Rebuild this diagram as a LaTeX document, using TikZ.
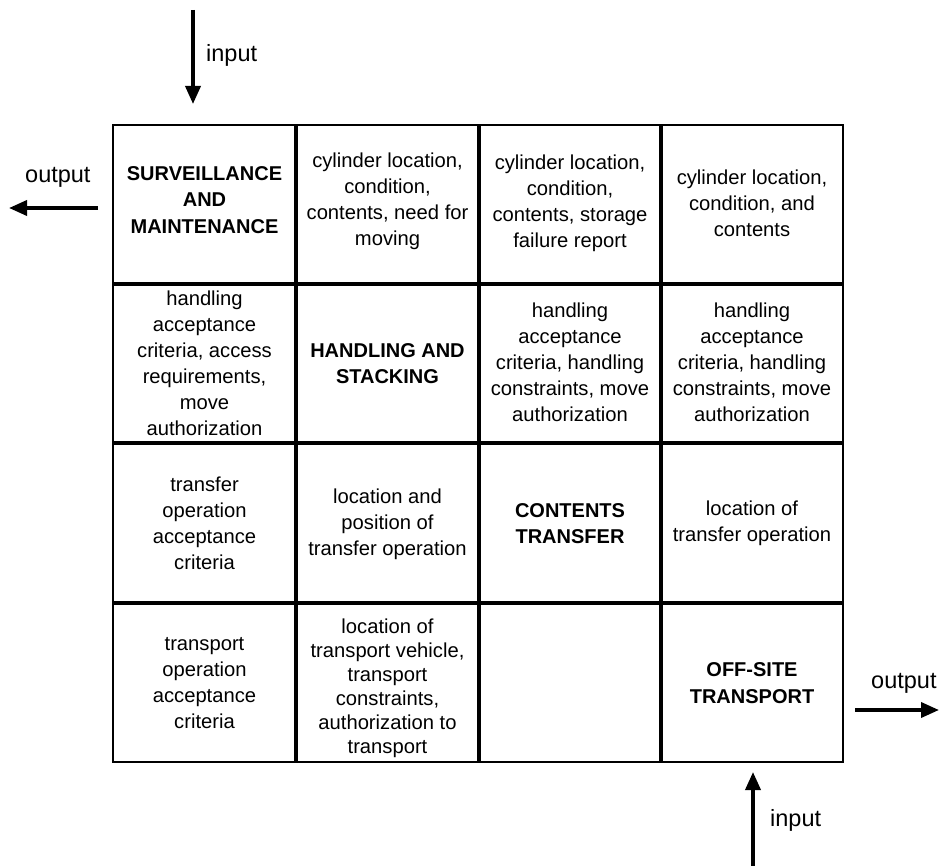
\documentclass[tikz,border=0pt]{standalone}
\usepackage{fontspec}
\setmainfont{Liberation Sans}
\usetikzlibrary{arrows.meta}
\begin{document}
\begin{tikzpicture}[x=1pt,y=-1pt,
  cell/.style={align=center, inner sep=0pt, font=\fontsize{20.2}{26}\selectfont},
  tightcell/.style={cell, font=\fontsize{20.2}{24}\selectfont},
  func/.style={cell, font=\fontsize{20}{26.5}\selectfont\bfseries},
  frame/.style={line width=2.2pt},
  divider/.style={line width=3.2pt},
  flow/.style={line width=3.6pt, -{Triangle[length=18pt,width=15pt]}},
  lbl/.style={inner sep=0pt, anchor=base west, font=\fontsize{23.5}{26}\selectfont}]
\useasboundingbox[fill=white] (0,0) rectangle (941,866);

% interface matrix: grid lines
\draw[divider] (296,125) -- (296,762) (479,125) -- (479,762) (661,125) -- (661,762);
\draw[divider] (113,284) -- (843,284) (113,443) -- (843,443) (113,603) -- (843,603);
\draw[frame] (113,125) rectangle (843,762);

% row 1
\node[func] (sm) at (204.5,200) {SURVEILLANCE\\AND\\MAINTENANCE};
\node[cell] (c12) at (387.5,201) {cylinder location,\\condition,\\contents, need for\\moving};
\node[cell] (c13) at (570,203) {cylinder location,\\condition,\\contents, storage\\failure report};
\node[cell] (c14) at (752,203) {cylinder location,\\condition, and\\contents};

% row 2
\node[cell] (c21) at (204.5,363.5) {handling\\acceptance\\criteria, access\\requirements,\\move\\authorization};
\node[func] (hs) at (387.5,363.5) {HANDLING AND\\STACKING};
\node[cell] (c23) at (570,362) {handling\\acceptance\\criteria, handling\\constraints, move\\authorization};
\node[cell] (c24) at (752,362) {handling\\acceptance\\criteria, handling\\constraints, move\\authorization};

% row 3
\node[cell] (c31) at (204.5,523) {transfer\\operation\\acceptance\\criteria};
\node[cell] (c32) at (387.5,524) {location and\\position of\\transfer operation};
\node[func] (ct) at (570,523.5) {CONTENTS\\TRANSFER};
\node[cell] (c34) at (752,523) {location of\\transfer operation};

% row 4
\node[cell] (c41) at (204.5,683) {transport\\operation\\acceptance\\criteria};
\node[tightcell] (c42) at (387.5,688) {location of\\transport vehicle,\\transport\\constraints,\\authorization to\\transport};
\node[func] (ot) at (752,683) {OFF-SITE\\TRANSPORT};

% external inputs and outputs
\coordinate (inA) at (193,10);
\coordinate (inAtip) at (193,104);
\coordinate (outA) at (98,208);
\coordinate (outAtip) at (9,208);
\coordinate (outB) at (855,710);
\coordinate (outBtip) at (939,710);
\coordinate (inB) at (753,866);
\coordinate (inBtip) at (753,772);

\draw[flow] (inA) -- (inAtip);
\draw[flow] (outA) -- (outAtip);
\draw[flow] (outB) -- (outBtip);
\draw[flow] (inB) -- (inBtip);

\node[lbl] (inAlbl) at (206,62) {input};
\node[lbl] (outAlbl) at (25,183) {output};
\node[lbl] (outBlbl) at (871,688) {output};
\node[lbl] (inBlbl) at (770,826) {input};
\end{tikzpicture}
\end{document}
